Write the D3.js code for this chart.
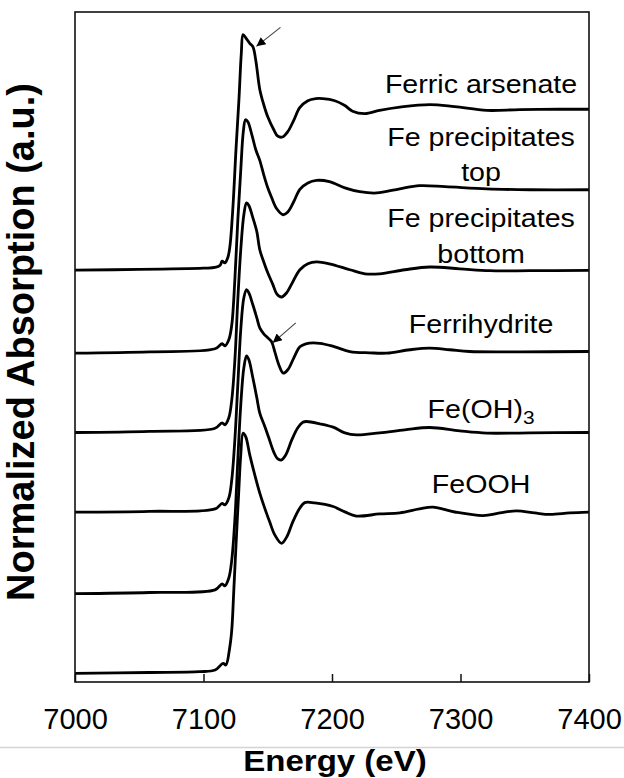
<!DOCTYPE html>
<html>
<head>
<meta charset="utf-8">
<script src="https://cdn.jsdelivr.net/npm/d3@7"></script>
<style>
  html, body { margin: 0; padding: 0; background: #fff; }
  svg { display: block; }
  text { font-family: "Liberation Sans", Arial, Helvetica, sans-serif; fill: #000; }
</style>
</head>
<body>
<svg id="chart" width="624" height="778"></svg>
<script>
// ---------- data (energy eV, normalized absorption) ----------
const seriesNames = ["Ferric arsenate", "Fe precipitates top", "Fe precipitates bottom", "Ferrihydrite", "Fe(OH)3", "FeOOH"];
const offsets = [2.5, 2.0, 1.5, 1.0, 0.5, 0.0];
const xTicks = [7000, 7100, 7200, 7300, 7400];

const ferricArsenate = [
  [7000,0.0],[7050,0.004],[7100,0.012],[7109,0.016],[7113,0.03],[7114.5,0.055],[7116.6,0.045],[7119,0.08],
  [7120.6,0.15],[7122.9,0.39],[7125.3,0.75],[7127.6,1.06],[7129.4,1.34],[7130.8,1.46],[7132.9,1.44],
  [7136,1.405],[7138.4,1.385],[7140.7,1.30],[7143.8,1.12],[7146.9,1.025],[7150,0.95],[7154.7,0.87],
  [7157.8,0.83],[7161.5,0.825],[7165.6,0.858],[7170.3,0.93],[7174.9,1.007],[7181.2,1.05],[7187.4,1.063],
  [7192.8,1.063],[7202.2,1.05],[7210,1.02],[7216,0.985],[7225.6,0.97],[7237,0.99],[7252.8,1.01],
  [7276,1.026],[7295.6,1.013],[7320.5,0.99],[7346,0.995],[7377,0.997],[7400,0.997]
];
const fePptTop = [
  [7000,-0.015],[7058,-0.007],[7109,0.012],[7114.5,0.043],[7116.6,0.03],[7119.7,0.068],[7122,0.16],
  [7124.4,0.44],[7126.7,0.81],[7129,1.12],[7131,1.36],[7132.7,1.432],[7134.5,1.42],[7137.6,1.34],
  [7140.7,1.246],[7143.8,1.18],[7146.9,1.09],[7150,1.01],[7153,0.95],[7157,0.88],[7162,0.843],
  [7165.6,0.86],[7170.3,0.925],[7175,1.0],[7181.2,1.04],[7188,1.056],[7198,1.048],[7210,1.01],
  [7221.6,0.986],[7234.8,0.978],[7252.8,1.004],[7268,1.023],[7288,1.017],[7320.5,1.003],[7354,0.998],[7400,0.998]
];
const fePptBottom = [
  [7000,-0.007],[7058,0.0],[7109,0.019],[7114.5,0.053],[7116.6,0.04],[7119.7,0.084],[7122,0.195],
  [7124.4,0.44],[7126.7,0.816],[7129,1.126],[7131.4,1.343],[7133.5,1.416],[7135.3,1.4],[7138.4,1.325],
  [7141.5,1.238],[7143.8,1.126],[7146.9,1.05],[7150,0.983],[7154,0.91],[7157,0.853],[7160.7,0.833],
  [7164.8,0.86],[7169.5,0.927],[7175,1.002],[7181.2,1.039],[7188,1.051],[7198,1.039],[7213.9,1.002],
  [7225.6,0.977],[7237,0.977],[7256.7,1.002],[7276,1.019],[7299.4,1.008],[7322.8,0.996],[7354,0.996],[7400,0.998]
];
const ferrihydrite = [
  [7000,-0.001],[7058,0.004],[7109,0.019],[7114.5,0.053],[7116.6,0.044],[7119.7,0.087],[7122,0.2],
  [7124.4,0.447],[7126.7,0.788],[7129,1.13],[7131.4,1.328],[7133.5,1.378],[7135.3,1.359],[7138.4,1.285],
  [7141.5,1.204],[7143.8,1.142],[7146.9,1.105],[7150,1.08],[7152.9,1.057],[7155.5,0.993],[7158.6,0.913],
  [7162,0.861],[7165.6,0.882],[7170.3,0.956],[7175,1.024],[7179.6,1.043],[7190.5,1.046],[7202.2,1.024],
  [7213.9,0.995],[7229.4,0.987],[7242.6,0.985],[7260.5,1.006],[7276,1.016],[7291.6,1.006],[7307,0.995],
  [7346,0.993],[7400,0.995]
];
const feOH3 = [
  [7000,-0.006],[7058,0.001],[7109,0.017],[7114.5,0.054],[7116.6,0.042],[7119.7,0.091],[7122,0.203],
  [7124.4,0.451],[7126.7,0.823],[7129,1.164],[7131.4,1.394],[7133.5,1.468],[7135.3,1.444],[7138.4,1.332],
  [7141.5,1.208],[7143.8,1.113],[7147.7,1.03],[7150.8,0.96],[7154.7,0.871],[7157.8,0.829],[7160.7,0.823],
  [7164,0.854],[7168.7,0.947],[7173.4,1.022],[7177.3,1.056],[7180.2,1.061],[7190.5,1.047],[7200.9,1.026],
  [7210,0.991],[7219,0.978],[7237,0.991],[7256.7,1.009],[7276,1.024],[7299.4,1.003],[7320.5,0.989],
  [7354,0.991],[7400,0.993]
];
const feOOH = [
  [7000,0.0],[7058,0.005],[7097,0.01],[7109,0.02],[7115.3,0.062],[7117.4,0.051],[7120.5,0.165],[7122,0.269],
  [7123.6,0.517],[7125.5,0.827],[7127.5,1.137],[7129,1.354],[7130.8,1.489],[7132.9,1.466],[7136,1.354],
  [7139.9,1.23],[7143.8,1.117],[7149,0.993],[7151.5,0.939],[7155.5,0.858],[7160.7,0.806],[7164.8,0.846],
  [7169.5,0.939],[7175,1.025],[7178.8,1.058],[7186.6,1.056],[7200.9,1.034],[7210,1.001],[7219,0.975],
  [7237,0.988],[7252.8,0.995],[7268,1.019],[7278.6,1.03],[7295.6,1.0],[7317.6,0.978],[7330.6,0.994],
  [7343.6,1.007],[7357.8,0.994],[7369.5,0.985],[7385,0.994],[7400,0.999]
];
const allSeries = [ferricArsenate, fePptTop, fePptBottom, ferrihydrite, feOH3, feOOH];

// annotation arrows (tail -> tip, data units incl. offset)
const arrowTails = [[7159.9, 4.005], [7171.8, 2.173]];
const arrowTips  = [[7141.2, 3.887], [7153.9, 2.049]];

// ---------- layout ----------
const svg = d3.select("#chart");
const x = d3.scaleLinear().domain([7000, 7400]).range([75, 589]);
const y = d3.scaleLinear().domain([-0.054, 4.10]).range([682, 12]);

// separator line (light gray) near bottom
svg.append("line").attr("x1", 0).attr("x2", 624).attr("y1", 747.5).attr("y2", 747.5)
  .attr("stroke", "#d4d4d4").attr("stroke-width", 1.5);

// curves
const line = d3.line().x(d => x(d[0])).y(d => y(d[1])).curve(d3.curveCatmullRom.alpha(0.5));
allSeries.forEach((s, i) => {
  svg.append("path")
    .datum(s.map(d => [d[0], d[1] + offsets[i]]))
    .attr("d", line)
    .attr("fill", "none")
    .attr("stroke", "#000")
    .attr("stroke-width", 2.8)
    .attr("stroke-linejoin", "round");
});

// frame
svg.append("rect").attr("x", x(7000)).attr("y", y(4.10))
  .attr("width", x(7400) - x(7000)).attr("height", y(-0.054) - y(4.10))
  .attr("fill", "none").attr("stroke", "#111").attr("stroke-width", 1.6);

// x axis
const xAxis = d3.axisBottom(x).tickValues(xTicks).tickSize(-8).tickPadding(26).tickFormat(d3.format("d"));
const gx = svg.append("g").attr("transform", `translate(0,${y(-0.054)})`).call(xAxis);
gx.select(".domain").remove();
gx.selectAll(".tick line").attr("stroke", "#111").attr("stroke-width", 1.5);
gx.selectAll(".tick text").attr("font-size", 29).attr("fill", "#000")
  .attr("font-family", "'Liberation Sans', Arial, sans-serif");

// arrows
const defs = svg.append("defs");
defs.append("marker").attr("id", "ah").attr("viewBox", "0 0 10 10")
  .attr("refX", 10).attr("refY", 5).attr("markerWidth", 11).attr("markerHeight", 9)
  .attr("markerUnits", "userSpaceOnUse").attr("orient", "auto")
  .append("path").attr("d", "M0,0 L10,5 L0,10 Z").attr("fill", "#000");
arrowTails.forEach((t, i) => {
  svg.append("line")
    .attr("x1", x(t[0])).attr("y1", y(t[1]))
    .attr("x2", x(arrowTips[i][0])).attr("y2", y(arrowTips[i][1]))
    .attr("stroke", "#444").attr("stroke-width", 1.1).attr("marker-end", "url(#ah)");
});

// series labels (centered)
const labelCenterE = 7316;
const labelLines = [
  [{t: "Ferric arsenate", v: 3.598}],
  [{t: "Fe precipitates", v: 3.267}, {t: "top", v: 3.05}],
  [{t: "Fe precipitates", v: 2.770}, {t: "bottom", v: 2.543}],
  [{t: "Ferrihydrite", v: 2.109}],
  [{t: "Fe(OH)", sub: "3", v: 1.582}],
  [{t: "FeOOH", v: 1.120}]
];
labelLines.forEach(group => group.forEach(l => {
  const g = svg.append("g").attr("transform", `translate(${x(labelCenterE)},${y(l.v)}) scale(1.1,1)`);
  const txt = g.append("text").attr("text-anchor", "middle").attr("font-size", 26);
  txt.append("tspan").text(l.t);
  if (l.sub) txt.append("tspan").attr("font-size", 19).attr("dy", 6).text(l.sub);
}));

// axis titles
svg.append("g").attr("transform", `translate(335,771) scale(1.1,1)`)
  .append("text").attr("text-anchor", "middle").attr("font-size", 30).attr("font-weight", "bold")
  .text("Energy (eV)");

svg.append("g").attr("transform", `translate(34,342) rotate(-90)`)
  .append("text").attr("text-anchor", "middle").attr("font-size", 38).attr("font-weight", "bold")
  .text("Normalized Absorption (a.u.)");
</script>
</body>
</html>
